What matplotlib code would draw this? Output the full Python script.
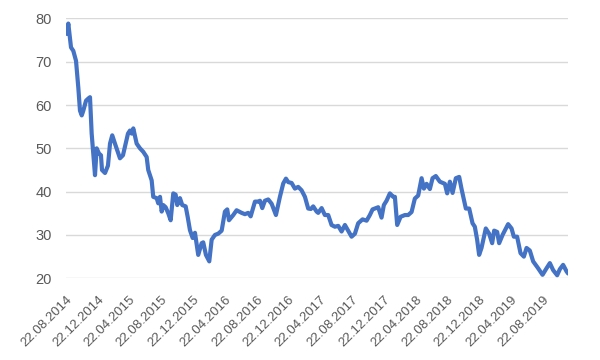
import matplotlib
matplotlib.use("Agg")
import matplotlib.pyplot as plt
import matplotlib.transforms as mtransforms

# months since 22.08.2014
months = [0.13, 0.29, 0.63, 0.92, 1.26, 1.55, 1.76, 1.98, 2.18, 2.52, 2.81, 3.02,
          3.23, 3.65, 3.86, 4.15, 4.40, 4.53, 4.91, 5.28, 5.54, 5.82, 6.16, 6.79,
          7.17, 7.80, 8.05, 8.27, 8.47, 8.89, 9.31, 9.72, 10.15, 10.35, 10.78, 10.98,
          11.41, 11.61, 11.83, 12.04, 12.24, 12.54, 12.87, 13.17, 13.50, 13.80, 14.00,
          14.34, 14.63, 15.06, 15.31, 15.60, 15.94, 16.23, 16.64, 17.07, 17.27, 17.61,
          18.03, 18.33, 18.74, 19.16, 19.59, 20.00, 20.29, 20.51, 21.05, 21.47, 22.10,
          22.52, 22.93, 23.24, 23.78, 24.19, 24.41, 24.70, 25.03, 25.45, 25.88, 26.42,
          26.92, 27.34, 27.68, 27.97, 28.39, 28.81, 29.22, 29.65, 30.07, 30.48, 30.82,
          31.11, 31.54, 31.74, 32.17, 32.58, 33.00, 33.42, 33.84, 34.26, 34.68, 35.10,
          35.51, 35.94, 36.36, 36.77, 37.32, 37.83, 38.24, 38.58, 38.87, 39.29, 39.71,
          40.00, 40.34, 40.76, 41.17, 41.39, 41.68, 42.11, 42.65, 43.06, 43.49, 43.90,
          44.32, 44.75, 45.04, 45.38, 45.79, 46.13, 46.54, 47.05, 47.68, 47.97, 48.31,
          48.65, 49.06, 49.48, 49.78, 50.32, 50.74, 51.16, 51.45, 51.74, 51.99, 52.29,
          52.83, 53.25, 53.63, 53.88, 54.26, 54.51, 54.94, 55.64, 56.07, 56.36, 56.77,
          57.20, 57.62, 57.96, 58.37, 58.79, 59.42, 59.97, 60.47, 60.89, 61.30, 61.81,
          62.15, 62.56, 62.99, 63.19]

values = [76.4, 78.8, 73.3, 72.5, 70.2, 64.0, 58.7, 57.6, 58.7, 61.0, 61.5, 61.8,
          53.4, 43.8, 50.0, 48.8, 48.4, 45.0, 44.3, 46.0, 51.1, 53.0, 51.1, 47.7,
          48.4, 53.4, 54.1, 53.4, 54.6, 51.1, 50.0, 49.2, 48.0, 45.0, 42.6, 38.8,
          38.5, 37.3, 38.8, 35.4, 36.9, 36.4, 35.0, 33.4, 39.6, 39.3, 36.9,
          38.5, 36.9, 36.6, 34.2, 31.1, 29.3, 30.5, 25.4, 28.1, 28.3, 25.4,
          23.9, 28.9, 30.0, 30.3, 31.0, 35.4, 35.9, 33.4, 34.6, 35.7, 35.1,
          34.8, 35.1, 34.3, 37.7, 37.7, 37.9, 36.2, 37.9, 38.2, 37.2, 34.6,
          38.8, 41.9, 43.0, 42.2, 42.0, 40.7, 41.1, 40.3, 38.8, 36.1, 36.0,
          36.6, 35.4, 35.1, 36.2, 34.6, 34.6, 32.3, 31.9, 32.1, 30.8, 32.3,
          31.0, 29.6, 30.3, 32.7, 33.6, 33.3, 34.6, 35.9, 36.1, 36.4, 34.0,
          36.9, 37.9, 39.6, 38.8, 38.8, 32.3, 34.2, 34.6, 34.6, 35.3, 38.4,
          39.1, 43.1, 40.7, 41.8, 40.6, 43.1, 43.6, 42.3, 41.8, 39.6, 42.3,
          39.7, 43.1, 43.4, 40.6, 36.1, 36.1, 32.7, 31.9, 28.9, 25.4, 27.0,
          31.5, 30.3, 28.1, 31.0, 30.7, 28.1, 30.0, 32.5, 31.5, 29.6, 29.6,
          25.8, 25.0, 27.0, 26.4, 23.9, 22.3, 20.8, 22.3, 23.5, 21.9, 20.7,
          22.1, 23.1, 21.6, 21.1]

tick_months = [0, 4, 8, 12, 16, 20, 24, 28, 32, 36, 40, 44, 48, 52, 56, 60]
tick_labels = ["22.08.2014", "22.12.2014", "22.04.2015", "22.08.2015", "22.12.2015",
               "22.04.2016", "22.08.2016", "22.12.2016", "22.04.2017", "22.08.2017",
               "22.12.2017", "22.04.2018", "22.08.2018", "22.12.2018", "22.04.2019",
               "22.08.2019"]
y_ticks = [20, 30, 40, 50, 60, 70, 80]

plt.rcParams['font.family'] = ['Liberation Sans', 'DejaVu Sans']

fig = plt.figure(figsize=(6, 3.6), dpi=100)
ax = fig.add_axes([0.11, 0.227, 0.837, 0.722])

ax.plot(months, values, color="#4472C4", lw=3, solid_joinstyle="round",
        solid_capstyle="round", zorder=3)

ax.set_xlim(0, 63.2)
ax.set_ylim(20, 80)
ax.set_yticks(y_ticks)
ax.set_xticks(tick_months)
ax.set_xticklabels(tick_labels, rotation=45, ha="right", va="center",
                   rotation_mode="anchor", fontsize=9.5, color="#595959")
ax.tick_params(axis="y", labelsize=10.5, labelcolor="#595959", length=0, pad=10)
ax.tick_params(axis="x", length=0, pad=14)
offset = mtransforms.ScaledTranslation(4 / 100, 0, fig.dpi_scale_trans)
for lab in ax.get_xticklabels():
    lab.set_transform(lab.get_transform() + offset)

ax.yaxis.grid(True, color="#D9D9D9", lw=1)
ax.set_axisbelow(True)
for s in ax.spines.values():
    s.set_visible(False)

fig.savefig("out.png", dpi=100)
